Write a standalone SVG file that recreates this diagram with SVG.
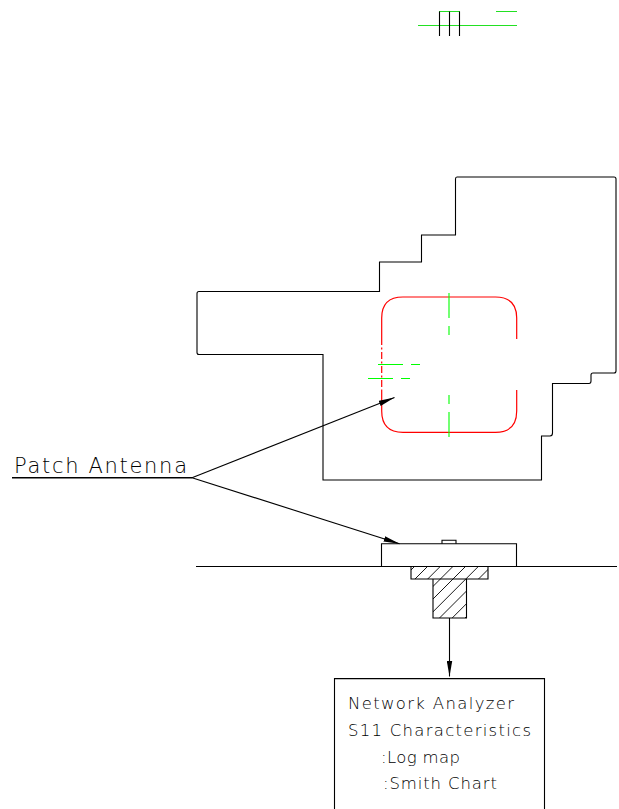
<svg xmlns="http://www.w3.org/2000/svg" width="619" height="809" viewBox="0 0 619 809">
<style>
.k{fill:none;stroke:#000;stroke-width:1.1}
.g{fill:none;stroke:#00ff00;stroke-width:1.1}
.gt{fill:none;stroke:#22e022;stroke-width:1.1}
.r{fill:none;stroke:#ff0000;stroke-width:1.2}
.h{fill:none;stroke:#000;stroke-width:.9}
.t{font-family:"DejaVu Sans","Liberation Sans",sans-serif;font-weight:200;font-size:16.5px;fill:#000}
.big{font-size:21px}
</style>
<defs>
<marker id="ah" markerUnits="userSpaceOnUse" markerWidth="17" markerHeight="6" refX="16" refY="3" orient="auto"><path d="M0 0.2L16 3L0 5.8Z" fill="#000"/></marker>
<clipPath id="hc"><path d="M411 566H488V579H466.5V618H433V579H411Z"/></clipPath>
</defs>
<rect width="619" height="809" fill="#fff"/>
<g id="top-fragment">
<path class="gt" d="M418 25.5H517M439 11.5H460M496 11.5H517"/>
<path class="k" d="M439.5 11.5V36M449.5 11.5V36M459.5 11.5V36"/>
</g>
<g id="ground-outline"><path class="k" d="M457 177H614Q616 177 616 179V371Q616 373 614 373H593Q591 373 591 375V381Q591 383.5 589 383.5H552.5V433Q552.5 436 550 436H541.5V480H323V354.5H199Q197 354.5 197 352.5V293.5Q197 291.5 199 291.5H379.5V262H421.5V235H455.5V179Q455.5 177 457 177Z"/></g>
<g id="patch-top">
<path class="r" d="M381.7 338V318Q381.7 297 403 297H495.5Q516.7 297 516.7 318V339M516.7 390V411Q516.7 432.3 495.5 432.3H403Q381.7 432.3 381.7 411V390"/>
<path class="r" d="M381.7 338V390" stroke-dasharray="7 2.5 2 2.5"/>
<path class="g" d="M449 293V318M449 326V335M449 395V404M449 412V437M378 364.5H403M411 364.5H420M368 378.5H393M401 378.5H410"/>
</g>
<g id="connectors">
<path class="k" d="M12 477.7H192" style="stroke-width:1.4"/>
<path class="k" d="M192 477.7L394.5 397.5" marker-end="url(#ah)"/>
<path class="k" d="M192 477.7L399.5 543.7" marker-end="url(#ah)"/>
<path class="k" d="M449.5 618V676.5" marker-end="url(#ah)"/>
</g>
<g id="patch-side">
<path class="k" d="M196 566.5H617"/>
<path class="k" d="M381.5 566V543.7H516.5V566"/>
<path class="k" d="M442 543.7V540.2H456V543.7"/>
</g>
<g id="feed">
<g clip-path="url(#hc)">
<path class="h" d="M415 566L363 618M428 566L376 618M440.7 566L388.7 618M453.4 566L401.4 618M466 566L414 618M478.8 566L426.8 618M491.5 566L439.5 618M504.2 566L452.2 618M517 566L465 618"/>
</g>
<path class="k" d="M411 566.5V579H488V566.5M433 579V618H466.5V579"/>
</g>
<g id="patch-label"><text class="t big" x="14" y="472.5" textLength="173" lengthAdjust="spacing">Patch Antenna</text></g>
<g id="analyzer">
<path class="k" d="M334.5 809V678.6H544.5V809"/>
<text class="t" x="348" y="709" textLength="166" lengthAdjust="spacing">Network Analyzer</text>
<text class="t" x="348" y="736" textLength="183" lengthAdjust="spacing">S11 Characteristics</text>
<text class="t" x="381" y="763" textLength="79" lengthAdjust="spacing">:Log map</text>
<text class="t" x="383" y="789" textLength="114" lengthAdjust="spacing">:Smith Chart</text>
</g>
</svg>
